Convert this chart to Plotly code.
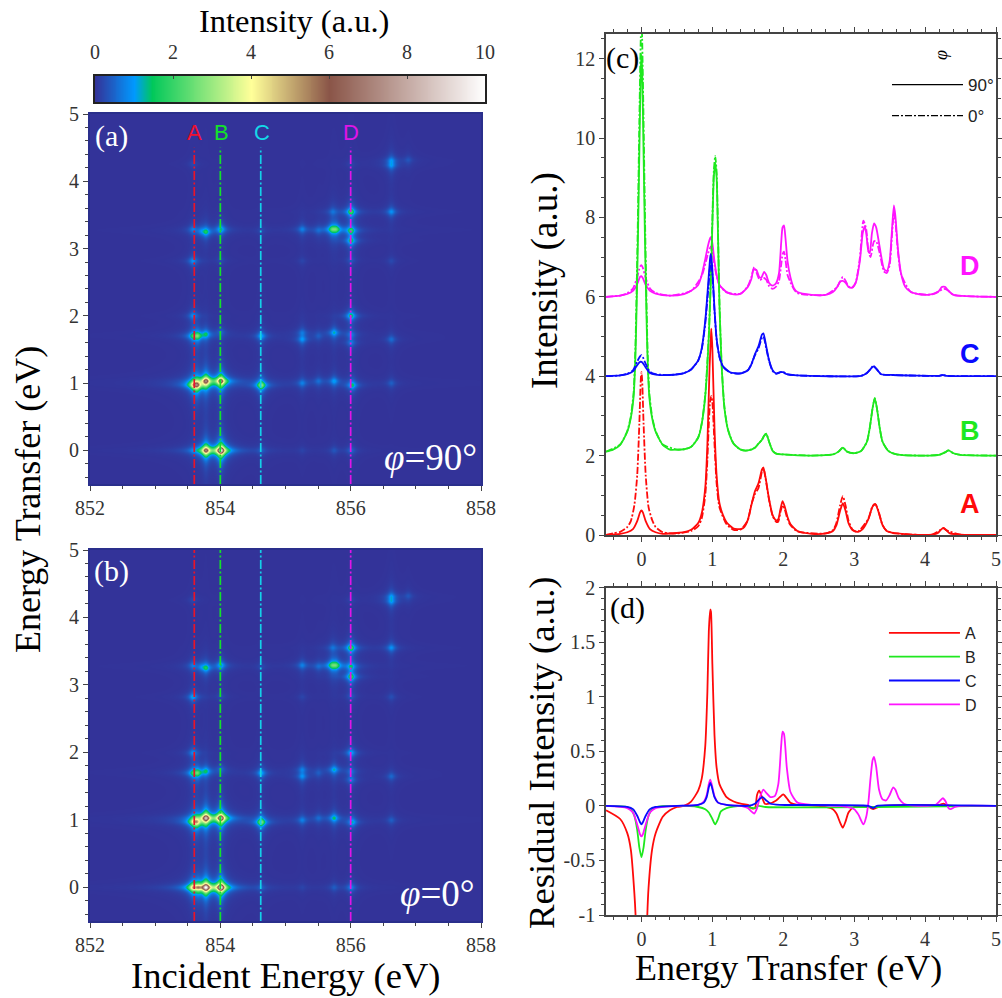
import numpy as np
import plotly.graph_objects as go

W, H = 1002, 998
SERIF = "Liberation Serif"
SANS = "Liberation Sans"
RED, GREEN, BLUE, MAG, CYAN = "#ff0a0a", "#1fe81f", "#0a0aff", "#ff14ff", "#12d8ea"

# ---------- RIXS map: spot positions and heights (a) and (b) ----------
spot_incident = [853.77,854.0,853.57,853.65,854.62,855.25,855.74,856.0,
                 853.58,853.63,853.77,854.0,854.62,855.25,855.5,855.74,856.02,856.62,
                 853.57,853.64,853.77,854.0,854.62,855.25,855.25,855.5,855.74,856.0,856.0,856.62,
                 853.57,856.0,
                 853.57,854.0,855.25,856.0,856.62,
                 853.57,853.7,853.77,854.0,854.62,855.25,855.5,855.71,856.0,856.0,
                 855.72,856.0,856.62,
                 853.57,856.0,856.62,856.62,856.88,855.77]
spot_transfer = [0,0,0,0,0,0,0,0,
                 .98,.97,1.03,1.03,.97,1.0,1.03,1.03,.97,1.0,
                 1.7,1.7,1.73,1.76,1.7,1.75,1.65,1.7,1.75,1.72,1.6,1.65,
                 2.0,2.0,
                 2.83,2.84,2.83,2.84,2.83,
                 3.3,3.28,3.26,3.3,3.28,3.3,3.28,3.3,3.28,3.13,
                 3.56,3.56,3.56,
                 4.27,4.27,4.25,4.32,4.33,3.3]
height_90 = [6.5,9.5,.3,.2,.35,.12,.3,.5,
             2.5,5.6,6.5,6.8,3.0,.7,.5,1.0,1.5,.4,
             1.2,2.1,1.2,.4,1.1,.5,.9,.35,1.2,.6,.6,.55,
             .8,1.6,
             .9,.2,.15,.3,.2,
             .6,.4,1.5,1.3,.2,.7,.4,1.7,1.7,1.5,
             .5,2.0,.9,
             .2,.15,.8,.75,.3,1.7]
height_0 = [9,9.3,3.4,3.0,.35,.12,.35,.8,
            2.5,3.6,8,8,2.8,.7,.45,1.4,1.2,.4,
            1.2,1.9,1.2,.4,1.1,.6,.8,.35,1.2,.5,.6,.5,
            .8,1.1,
            1.1,.2,.15,.3,.25,
            .6,.4,1.5,1.2,.2,.7,.4,1.7,1.2,1.8,
            .5,2.0,.9,
            .2,.15,.85,.8,.3,1.7]
WX, WY = 0.052, 0.05   # beam line widths of the spots

ix = np.linspace(851.98, 858.02, 394)
ty = np.linspace(-.52, 5.02, 374)
def rixs(heights):
    Z = np.zeros((ty.size, ix.size))
    for a, b, h in zip(spot_incident, spot_transfer, heights):
        Z += h / (1 + ((ix - a) / WX) ** 2)[None, :] / (1 + ((ty - b) / WY) ** 2)[:, None]
    return np.round(np.minimum(Z, 10), 3)

cut_energy = [853.6, 854.0, 854.62, 856.0]
cut_name = ["A", "B", "C", "D"]
cut_color = ["#e8142a", "#14e02a", "#14d0e8", "#e014e8"]

ZMAX = 10
cscale = [[0, "#333399"], [.1, "#0099ff"], [.145, "#00c85a"], [.4, "#ffff99"], [.6, "#8a5548"], [1, "#ffffff"]]
bar_values = [round(v * 0.05, 2) for v in range(201)]

# ---------- Panel (c) ----------
a90x = [-.5,-.3,-.2,-.12,-.06,-.02,0,.02,.06,.12,.2,.3,.5,.6,.7,.8,.85,.9,.93,.96,.98,.985,1.0,1.03,1.06,1.1,1.15,1.2,1.3,1.4,1.45,1.5,1.55,1.6,1.65,1.7,1.72,1.75,1.8,1.85,1.9,1.93,1.96,1.99,2.02,2.06,2.1,2.2,2.4,2.6,2.7,2.75,2.8,2.84,2.88,2.92,2.98,3.05,3.12,3.2,3.26,3.3,3.34,3.4,3.46,3.55,3.6,3.8,4.1,4.18,4.22,4.26,4.3,4.35,4.5,5]
a90y = [0,.03,.07,.15,.35,.57,.62,.57,.35,.15,.07,.03,.05,.07,.13,.3,.55,1.2,2.3,4.2,5.0,5.2,4.7,2.7,1.5,.8,.5,.32,.16,.15,.2,.38,.75,1.1,1.3,1.65,1.7,1.45,.9,.5,.37,.4,.65,.85,.72,.45,.28,.1,.03,.04,.1,.25,.6,.8,.6,.3,.12,.08,.15,.4,.72,.77,.6,.25,.1,.05,.04,.01,.01,.05,.13,.18,.12,.04,.01,0]
a0x = [-.5,-.4,-.3,-.2,-.15,-.1,-.06,-.03,-.01,0,.01,.03,.06,.1,.15,.2,.3,.4,.5,.7,.8,.85,.9,.93,.95,.97,.985,1.0,1.03,1.06,1.1,1.2,1.3,1.4,1.5,1.55,1.6,1.65,1.7,1.72,1.75,1.8,1.85,1.9,1.93,1.96,1.99,2.02,2.06,2.1,2.2,2.6,2.7,2.75,2.8,2.84,2.88,2.92,2.98,3.05,3.2,3.26,3.3,3.34,3.4,3.46,3.6,4.1,4.22,4.26,4.3,4.5,5]
a0y = [0,.04,.08,.2,.35,.75,1.5,2.8,3.9,4.1,3.9,2.8,1.5,.7,.38,.2,.07,.04,.04,.1,.22,.42,1.0,1.9,2.8,3.4,3.5,3.35,2.3,1.3,.7,.27,.13,.14,.37,.77,1.03,1.18,1.6,1.68,1.43,.88,.48,.33,.34,.58,.75,.65,.4,.25,.09,.04,.12,.31,.74,.98,.73,.36,.13,.08,.41,.73,.78,.62,.25,.1,.04,.01,.13,.17,.12,.01,0]
b90x = [-.5,-.4,-.3,-.2,-.15,-.11,-.085,-.07,-.05,-.03,-.01,0,.01,.03,.05,.07,.085,.11,.15,.2,.3,.4,.5,.6,.7,.8,.85,.9,.95,.98,1.0,1.02,1.04,1.06,1.08,1.1,1.13,1.17,1.22,1.3,1.4,1.5,1.6,1.65,1.7,1.73,1.76,1.8,1.85,1.9,2.0,2.4,2.7,2.78,2.84,2.9,3.0,3.1,3.18,3.22,3.26,3.29,3.32,3.36,3.4,3.48,3.6,4.0,4.2,4.28,4.33,4.4,4.5,5]
b90y = [2.1,2.15,2.27,2.6,2.95,3.5,4.5,5.6,7.4,9.6,11.7,12.1,11.7,9.6,7.4,5.6,4.5,3.5,2.95,2.6,2.27,2.15,2.15,2.16,2.22,2.45,2.8,3.5,5.0,6.5,7.8,9.0,9.38,9.0,7.5,5.8,4.3,3.2,2.65,2.3,2.15,2.13,2.2,2.3,2.4,2.5,2.55,2.35,2.12,2.05,2.03,2.0,2.03,2.1,2.2,2.1,2.06,2.12,2.35,2.7,3.2,3.45,3.2,2.7,2.35,2.12,2.03,2.0,2.02,2.08,2.13,2.06,2.02,2]
b0x = [-.5,-.3,-.2,-.15,-.11,-.085,-.07,-.05,-.03,-.01,0,.01,.03,.05,.07,.085,.11,.15,.2,.3,.5,.6,.7,.8,.85,.9,.95,.98,1.0,1.02,1.04,1.06,1.08,1.1,1.13,1.17,1.22,1.3,1.4,1.5,1.6,1.65,1.7,1.73,1.76,1.8,1.85,1.9,2.0,2.4,2.7,2.78,2.84,2.9,3.0,3.1,3.18,3.22,3.26,3.29,3.32,3.36,3.4,3.48,3.6,4.0,4.2,4.28,4.33,4.4,4.5,5]
b0y = [2.1,2.28,2.62,2.99,3.6,4.75,6.0,8.0,10.4,12.5,13.0,12.5,10.4,8.0,6.0,4.75,3.6,2.99,2.62,2.28,2.15,2.16,2.22,2.46,2.81,3.53,5.06,6.6,7.92,9.15,9.55,9.15,7.6,5.85,4.33,3.22,2.66,2.3,2.15,2.13,2.2,2.3,2.4,2.5,2.55,2.35,2.12,2.05,2.03,2.0,2.03,2.1,2.2,2.1,2.06,2.12,2.35,2.7,3.2,3.45,3.2,2.7,2.35,2.12,2.03,2.0,2.02,2.08,2.13,2.06,2.02,2]
c90x = [-.5,-.3,-.2,-.12,-.06,-.02,0,.02,.06,.12,.2,.4,.6,.7,.8,.85,.9,.94,.97,.98,1.0,1.03,1.06,1.1,1.15,1.25,1.4,1.5,1.55,1.6,1.65,1.7,1.72,1.76,1.8,1.85,1.9,1.96,2.0,2.05,2.2,3.1,3.18,3.24,3.27,3.32,3.38,3.55,4.2,4.25,4.3,5]
c90y = [4.0,4.02,4.05,4.12,4.28,4.36,4.36,4.33,4.22,4.08,4.04,4.03,4.08,4.17,4.4,4.7,5.4,6.3,7.0,7.08,6.7,5.7,4.95,4.5,4.25,4.1,4.07,4.15,4.3,4.55,4.75,5.05,5.08,4.75,4.4,4.15,4.07,4.1,4.1,4.05,4.02,4.01,4.08,4.2,4.25,4.17,4.05,4.03,4.01,4.03,4.01,4]
c0x = [-.5,-.3,-.2,-.12,-.06,-.02,0,.02,.06,.12,.2,.4,.6,.7,.8,.85,.9,.94,.97,.98,1.0,1.03,1.06,1.1,1.15,1.25,1.4,1.5,1.55,1.6,1.65,1.7,1.72,1.76,1.8,1.85,1.9,1.96,2.0,2.05,2.2,3.1,3.18,3.24,3.27,3.32,3.38,3.55,4.2,4.25,4.3,5]
c0y = [4.0,4.02,4.06,4.15,4.37,4.5,4.53,4.48,4.31,4.11,4.05,4.03,4.08,4.17,4.39,4.68,5.33,6.15,6.8,6.88,6.58,5.64,4.92,4.48,4.24,4.09,4.07,4.15,4.3,4.53,4.7,4.97,5.0,4.7,4.38,4.13,4.06,4.1,4.1,4.05,4.02,4.01,4.08,4.2,4.27,4.17,4.05,4.03,4.01,4.03,4.01,4]
d90x = [-.5,-.3,-.2,-.12,-.06,-.02,0,.02,.06,.12,.2,.4,.6,.7,.8,.85,.9,.94,.97,.98,1.0,1.03,1.06,1.1,1.2,1.3,1.4,1.5,1.55,1.58,1.62,1.66,1.69,1.73,1.76,1.8,1.85,1.9,1.94,1.97,1.99,2.01,2.03,2.06,2.1,2.15,2.2,2.4,2.6,2.7,2.76,2.8,2.84,2.88,2.92,2.97,3.02,3.08,3.12,3.15,3.17,3.2,3.22,3.25,3.28,3.31,3.36,3.42,3.46,3.5,3.53,3.56,3.58,3.62,3.66,3.72,3.8,3.95,4.1,4.18,4.24,4.28,4.33,4.4,5]
d90y = [6.0,6.03,6.07,6.15,6.32,6.5,6.52,6.47,6.3,6.15,6.08,6.03,6.07,6.15,6.3,6.55,6.95,7.3,7.48,7.5,7.35,6.9,6.55,6.3,6.12,6.06,6.08,6.25,6.45,6.68,6.68,6.5,6.48,6.63,6.55,6.35,6.28,6.35,6.6,7.35,7.75,7.8,7.5,6.9,6.5,6.22,6.12,6.05,6.05,6.12,6.25,6.38,6.4,6.35,6.25,6.23,6.35,6.9,7.6,7.78,7.6,7.15,7.1,7.6,7.85,7.75,7.25,6.7,6.65,6.9,7.6,8.3,8.05,7.15,6.6,6.25,6.12,6.05,6.07,6.12,6.25,6.25,6.15,6.05,6]
d0x = [-.5,-.3,-.2,-.12,-.06,-.02,0,.02,.06,.12,.2,.4,.7,.85,.94,.97,.98,1.0,1.03,1.06,1.1,1.2,1.4,1.5,1.55,1.59,1.62,1.67,1.72,1.76,1.8,1.85,1.9,1.94,1.97,1.99,2.01,2.03,2.06,2.1,2.15,2.2,2.6,2.76,2.8,2.84,2.88,2.92,2.97,3.02,3.08,3.13,3.17,3.2,3.23,3.28,3.31,3.36,3.42,3.46,3.5,3.53,3.56,3.58,3.62,3.66,3.8,4.1,4.24,4.28,4.33,4.4,5]
d0y = [6.0,6.03,6.09,6.21,6.49,6.76,6.8,6.73,6.47,6.21,6.1,6.03,6.15,6.53,7.1,7.24,7.27,7.15,6.8,6.52,6.29,6.11,6.08,6.27,6.5,6.75,6.62,6.42,6.48,6.43,6.27,6.2,6.26,6.4,6.8,7.07,7.14,6.95,6.55,6.37,6.19,6.09,6.05,6.25,6.38,6.5,6.4,6.26,6.23,6.35,6.98,7.92,7.7,7.17,7.0,7.4,7.4,7.1,6.64,6.6,6.8,7.47,8.13,7.9,7.08,6.58,6.12,6.06,6.18,6.2,6.15,6.05,6]

# ---------- Panel (d) ----------
ra_x = [-.5,-.3,-.2,-.15,-.1,-.08,-.04,0,.04,.08,.1,.15,.2,.3,.4,.5,.6,.7,.8,.85,.9,.93,.95,.97,.98,1.0,1.03,1.06,1.1,1.2,1.3,1.4,1.5,1.55,1.6,1.63,1.66,1.7,1.74,1.8,1.9,1.95,2.0,2.05,2.1,2.2,2.5,2.7,2.75,2.8,2.84,2.88,2.92,3.0,3.2,3.27,3.3,3.4,4.2,4.26,4.3,4.4,5]
ra_y = [-.04,-.12,-.25,-.4,-.8,-1.05,-2.4,-3.5,-2.4,-1.05,-.75,-.4,-.25,-.1,-.04,-.01,0,.04,.14,.25,.55,1.05,1.6,1.8,1.78,1.3,.65,.35,.2,.08,.04,.02,.01,-.02,-.02,.1,.14,.08,.02,.02,.05,.08,.105,.07,.03,.01,0,-.03,-.07,-.15,-.2,-.14,-.06,-.01,-.01,-.03,-.02,0,.01,.02,.01,0,0]
rb_x = [-.5,-.2,-.15,-.1,-.06,-.03,0,.03,.06,.1,.15,.2,.5,.8,.9,.95,1.0,1.04,1.08,1.12,1.2,1.4,1.6,1.65,1.75,3.3,5]
rb_y = [0,-.01,-.03,-.09,-.22,-.38,-.47,-.38,-.22,-.09,-.03,-.01,0,-.01,-.03,-.06,-.12,-.17,-.12,-.05,-.02,0,-.02,0,-.01,-.01,0]
rc_x = [-.5,-.2,-.12,-.06,-.02,0,.02,.06,.12,.2,.5,.8,.88,.92,.95,.97,.99,1.03,1.08,1.2,1.5,1.6,1.66,1.71,1.76,1.82,1.95,3.2,3.27,3.32,5]
rc_y = [0,-.01,-.03,-.09,-.15,-.17,-.15,-.09,-.03,-.01,0,.01,.03,.08,.17,.21,.18,.08,.03,.01,0,.02,.06,.08,.05,.02,.01,0,-.02,0,0]
rd_x = [-.5,-.2,-.12,-.06,-.02,0,.02,.06,.12,.2,.5,.8,.88,.92,.95,.97,.99,1.03,1.08,1.2,1.4,1.5,1.55,1.59,1.63,1.67,1.72,1.76,1.82,1.88,1.93,1.97,1.99,2.01,2.05,2.1,2.2,2.4,2.8,3.0,3.06,3.13,3.17,3.2,3.23,3.26,3.28,3.31,3.35,3.4,3.45,3.5,3.55,3.58,3.63,3.7,3.9,4.15,4.2,4.25,4.29,4.33,4.36,4.42,4.5,5]
rd_y = [0,-.02,-.06,-.17,-.26,-.28,-.26,-.17,-.06,-.02,0,.01,.04,.1,.2,.24,.2,.09,.03,.01,0,-.02,-.05,-.07,-.02,.08,.15,.12,.08,.09,.2,.55,.68,.66,.35,.13,.03,.01,0,-.03,-.08,-.17,-.1,.03,.25,.42,.45,.36,.15,.06,.05,.1,.17,.15,.07,.02,0,.01,.04,.07,.04,-.02,-.03,-.01,0,0]

ORDER = [("D",MAG,d90x,d90y,d0x,d0y),("B",GREEN,b90x,b90y,b0x,b0y),("C",BLUE,c90x,c90y,c0x,c0y),("A",RED,a90x,a90y,a0x,a0y)]
DASH = "7px,2px,2px,2px"
CUT_DASH = "9px,2.5px,2px,2.5px"
LW = 1.8

def dx(a, b): return [a / W, b / W]
def dy(top, bottom): return [1 - bottom / H, 1 - top / H]

fig = go.Figure()
fig.add_trace(go.Heatmap(x=bar_values, y=[0, 1], z=[bar_values, bar_values], zmin=0, zmax=ZMAX, colorscale=cscale,
                         showscale=False, zsmooth="best", xaxis="x5", yaxis="y5", hoverinfo="skip"))
fig.add_trace(go.Heatmap(x=ix, y=ty, z=rixs(height_90), zmin=0, zmax=ZMAX, colorscale=cscale, showscale=False,
                         zsmooth="best", xaxis="x", yaxis="y", name="phi=90"))
fig.add_trace(go.Heatmap(x=ix, y=ty, z=rixs(height_0), zmin=0, zmax=ZMAX, colorscale=cscale, showscale=False,
                         zsmooth="best", xaxis="x2", yaxis="y2", name="phi=0"))
for e, c in zip(cut_energy, cut_color):
    fig.add_trace(go.Scatter(x=[e, e], y=[-.5, 4.5], mode="lines", line=dict(color=c, width=1.7, dash=CUT_DASH),
                             xaxis="x", yaxis="y", showlegend=False, hoverinfo="skip"))
    fig.add_trace(go.Scatter(x=[e, e], y=[-.5, 5], mode="lines", line=dict(color=c, width=1.7, dash=CUT_DASH),
                             xaxis="x2", yaxis="y2", showlegend=False, hoverinfo="skip"))
for name, col, x9, y9, x0, y0 in ORDER:
    fig.add_trace(go.Scatter(x=x0, y=y0, mode="lines", line=dict(color=col, width=LW, dash=DASH, shape="spline", smoothing=.6),
                             xaxis="x3", yaxis="y3", showlegend=False, name=name + " 0°"))
    fig.add_trace(go.Scatter(x=x9, y=y9, mode="lines", line=dict(color=col, width=LW, shape="spline", smoothing=.6),
                             xaxis="x3", yaxis="y3", showlegend=False, name=name + " 90°"))
fig.add_trace(go.Scatter(x=[None], y=[None], mode="lines", name="90°", line=dict(color="black", width=1.3),
                         xaxis="x3", yaxis="y3", legend="legend2", legendgroup="g90"))
fig.add_trace(go.Scatter(x=[None], y=[None], mode="lines", name="0°", line=dict(color="black", width=1.3, dash=DASH),
                         xaxis="x3", yaxis="y3", legend="legend2", legendgroup="g0"))
for name, col, x, y in [("A",RED,ra_x,ra_y),("B",GREEN,rb_x,rb_y),("D",MAG,rd_x,rd_y),("C",BLUE,rc_x,rc_y)]:
    fig.add_trace(go.Scatter(x=x, y=y, mode="lines", name=name, legendgroup=name, line=dict(color=col, width=LW, shape="spline", smoothing=.6),
                             xaxis="x4", yaxis="y4", legendrank={"A":1,"B":2,"C":3,"D":4}[name]))

TICK = dict(family=SERIF, size=20, color="#333")
AX = dict(showgrid=False, zeroline=False, automargin=False, ticks="outside", ticklen=5, tickwidth=1.2, tickcolor="#444", tickfont=TICK)
def minor(d, ln=3): return dict(dtick=d, ticks="outside", ticklen=ln, tickwidth=1, tickcolor="#444", showgrid=False)
MAP = dict(AX, showline=True, linecolor="#2a2f8c", linewidth=2, mirror=True)
PANEL = dict(AX, showline=True, linecolor="#444", linewidth=1.6, mirror="ticks")

layout = dict(
    template="none",
    width=W, height=H, margin=dict(l=0, r=0, t=0, b=0, pad=0), autosize=False,
    paper_bgcolor="white", plot_bgcolor="white", showlegend=True,
    xaxis=dict(MAP, domain=dx(90, 481), range=[852, 858], tick0=852, dtick=2, minor=minor(.5), anchor="y"),
    yaxis=dict(MAP, domain=dy(114, 484), range=[-.5, 5], tick0=0, dtick=1, minor=minor(.2), anchor="x"),
    xaxis2=dict(MAP, domain=dx(90, 481), range=[852, 858], tick0=852, dtick=2, minor=minor(.5), anchor="y2"),
    yaxis2=dict(MAP, domain=dy(550, 921), range=[-.5, 5], tick0=0, dtick=1, minor=minor(.2), anchor="x2"),
    xaxis3=dict(PANEL, domain=dx(606, 996), range=[-.5, 5], tick0=0, dtick=1, minor=minor(.2), anchor="y3"),
    yaxis3=dict(PANEL, domain=dy(34, 535), range=[0, 12.62], tick0=0, dtick=2, minor=minor(.5), anchor="x3"),
    xaxis4=dict(PANEL, domain=dx(606, 996), range=[-.5, 5], tick0=0, dtick=1, minor=minor(.2), anchor="y4"),
    yaxis4=dict(PANEL, domain=dy(587.7, 915), range=[-1, 2], tickmode="array",
                tickvals=[-1, -.5, 0, .5, 1, 1.5, 2], ticktext=["-1", "-0.5", "0", "0.5", "1", "1.5", "2"],
                minor=dict(minor(.1), tickmode="linear", tick0=0), anchor="x4"),
    xaxis5=dict(AX, domain=dx(95, 485), range=[0, 10], side="top", tick0=0, dtick=2, ticks="inside", ticklen=3,
                showline=True, linecolor="#222", linewidth=1.5, mirror=True, anchor="y5", ticklabelstandoff=7),
    yaxis5=dict(domain=dy(76, 102), range=[0, 1], showticklabels=False, ticks="", showgrid=False, zeroline=False, automargin=False,
                showline=True, linecolor="#222", linewidth=1.5, mirror=True, anchor="x5"),
    legend=dict(x=.98, y=1 - 616 / H, xanchor="right", yanchor="top", bgcolor="rgba(0,0,0,0)", borderwidth=0,
                font=dict(family=SANS, size=16, color="#222"), itemwidth=71, tracegroupgap=5, traceorder="normal"),
    legend2=dict(x=.997, y=1 - 67 / H, xanchor="right", yanchor="top", bgcolor="rgba(0,0,0,0)", borderwidth=0,
                 font=dict(family=SANS, size=17, color="#222"), itemwidth=71, tracegroupgap=6),
)
fig.update_layout(**layout)

def note(txt, px, py, size, color="black", family=SERIF, angle=0, **kw):
    fig.add_annotation(text=txt, x=px / W, y=1 - py / H, xref="paper", yref="paper", showarrow=False,
                       font=dict(family=family, size=size, color=color), textangle=angle,
                       xanchor="center", yanchor="middle", **kw)

note("Intensity (a.u.)", 294, 21, 32.5)
note("Energy Transfer (eV)", 28, 500, 36, angle=-90)
note("Incident Energy (eV)", 285, 975, 36.5)
note("Energy Transfer (eV)", 788, 968, 36)
note("Intensity (a.u.)", 545, 281, 37, angle=-90)
note("Residual Intensity (a.u.)", 541, 753, 36.7, angle=-90)
note("(a)", 111, 136, 30, "white")
note("(b)", 111, 571, 30, "white")
note("(c)", 622, 58, 30)
note("(d)", 627, 608, 30)
note("<i>φ</i>=90°", 430, 457, 37, "white")
note("<i>φ</i>=0°", 437, 893, 37, "white")
note("<i>φ</i>", 941, 55, 18, angle=-90)
for n, e, c in zip(cut_name, [194, 221, 262, 351], ["#f01030", "#14e02a", "#14d8e8", "#e014e8"]):
    note(n, e, 132, 22, c, SANS)
for n, c, py in [("D", MAG, 266), ("C", BLUE, 354), ("B", GREEN, 431), ("A", RED, 504)]:
    note("<b>%s</b>" % n, 970, py, 27, c, SANS)

fig.write_html("out.html", config=dict(displayModeBar=False),
               post_script="document.body.style.margin='0';document.body.style.overflow='hidden';")
